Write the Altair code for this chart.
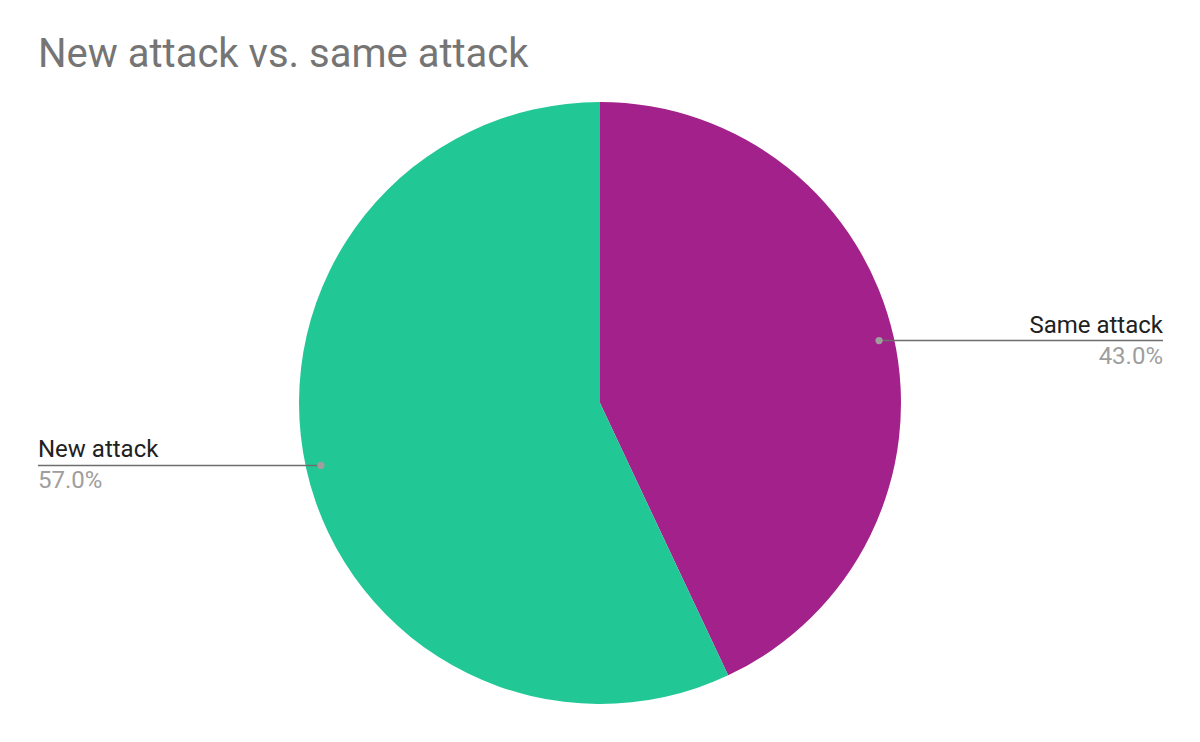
import math
import altair as alt
import pandas as pd

# ---- data ----
title_text = ["New attack vs. same attack"]
labels = ["Same attack", "New attack"]
values = [43.0, 57.0]
colors = ["#A3218A", "#21C896"]

# ---- layout constants ----
W, H = 1184, 726
CX, CY, R = 592, 395, 301
LABEL_R = 0.95 * R
RIGHT_EDGE, LEFT_EDGE = 1155, 30

total = sum(values)
rows = []
cum = 0.0
for i, (lab, v) in enumerate(zip(labels, values)):
    mid = (cum + v / 2) / total * 2 * math.pi
    cum += v
    dx = math.sin(mid)
    dy = -math.cos(mid)
    px = CX + LABEL_R * dx
    py = CY + LABEL_R * dy
    right = dx >= 0
    rows.append({
        "label": lab,
        "value": v,
        "order": i,
        "pct": f"{v / total * 100:.1f}%",
        "px": px,
        "py": py,
        "ex": RIGHT_EDGE if right else LEFT_EDGE,
        "side": "right" if right else "left",
        "ly": py - 8,
        "pyy": py + 23,
    })
df = pd.DataFrame(rows)

xs = alt.Scale(domain=[0, W], range=[0, W], nice=False, zero=False)
ys = alt.Scale(domain=[0, H], range=[0, H], nice=False, zero=False)

base = alt.Chart(df)

pie = base.mark_arc(radius=R).encode(
    theta=alt.Theta("value:Q", stack=True),
    order=alt.Order("order:Q"),
    color=alt.Color("label:N", scale=alt.Scale(domain=labels, range=colors), legend=None),
    x=alt.value(CX),
    y=alt.value(CY),
)

lines = base.mark_rule(color="#6E6E6E", strokeWidth=1.5).encode(
    x=alt.X("px:Q", scale=xs, axis=None),
    x2="ex:Q",
    y=alt.Y("py:Q", scale=ys, axis=None),
)

dots = base.mark_circle(size=52, color="#9E9E9E", opacity=1).encode(
    x=alt.X("px:Q", scale=xs, axis=None),
    y=alt.Y("py:Q", scale=ys, axis=None),
)

def side_text(side, align):
    b = base.transform_filter(alt.datum.side == side)
    name = b.mark_text(align=align, baseline="alphabetic", font="Roboto", fontSize=24,
                       color="#212121").encode(
        x=alt.X("ex:Q", scale=xs, axis=None),
        y=alt.Y("ly:Q", scale=ys, axis=None),
        text="label:N",
    )
    pct = b.mark_text(align=align, baseline="alphabetic", font="Roboto", fontSize=24,
                      color="#9E9E9E").encode(
        x=alt.X("ex:Q", scale=xs, axis=None),
        y=alt.Y("pyy:Q", scale=ys, axis=None),
        text="pct:N",
    )
    return name + pct

title = alt.Chart(pd.DataFrame({"t": title_text})).mark_text(
    align="left", baseline="alphabetic", font="Roboto", fontSize=40, color="#757575"
).encode(x=alt.value(30), y=alt.value(59), text="t:N")

chart = alt.layer(
    pie, lines, dots, side_text("right", "right"), side_text("left", "left"), title
).properties(
    width=W, height=H, autosize=alt.AutoSizeParams(type="none"), padding=0
).configure_view(stroke=None).resolve_scale(x="shared", y="shared")

chart.save("out.html", embed_options={"renderer": "svg", "actions": False})
